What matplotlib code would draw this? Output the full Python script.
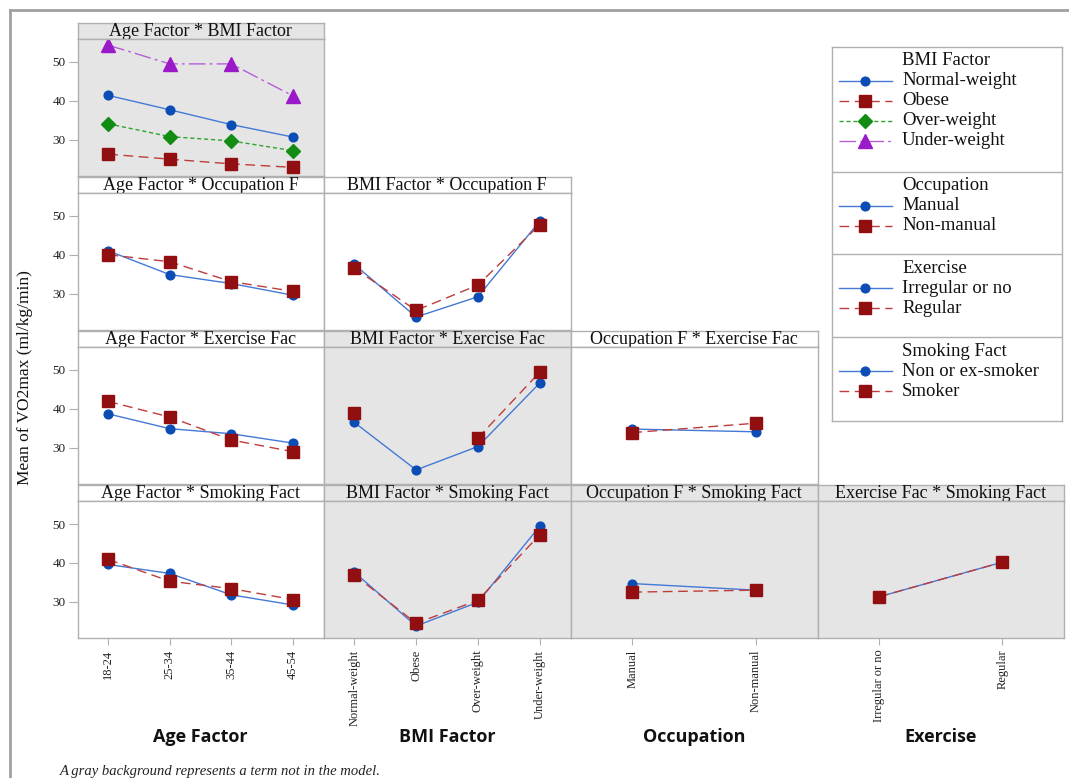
import numpy as np
import matplotlib
matplotlib.use("Agg")
import matplotlib.pyplot as plt
from matplotlib.lines import Line2D

# ---------------- data ----------------
age_levels = ['18-24', '25-34', '35-44', '45-54']
bmi_levels = ['Normal-weight', 'Obese', 'Over-weight', 'Under-weight']
occ_levels = ['Manual', 'Non-manual']
exer_levels = ['Irregular or no', 'Regular']
smoke_levels = ['Non or ex-smoker', 'Smoker']

# Age * BMI
ab_normal = [41.4, 37.7, 33.9, 30.7]
ab_obese = [26.3, 25.0, 23.8, 22.9]
ab_over = [34.1, 30.8, 29.7, 27.2]
ab_under = [54.3, 49.5, 49.5, 41.3]
# Age * Occupation
ao_manual = [41.0, 34.9, 32.6, 29.6]
ao_nonmanual = [40.0, 38.2, 33.1, 30.6]
# BMI * Occupation
bo_manual = [37.5, 24.0, 29.2, 48.6]
bo_nonmanual = [36.5, 25.7, 32.2, 47.7]
# Age * Exercise
ae_irregular = [38.7, 34.9, 33.6, 31.2]
ae_regular = [41.9, 37.9, 32.0, 29.0]
# BMI * Exercise
be_irregular = [36.5, 24.3, 30.3, 46.6]
be_regular = [39.0, np.nan, 32.5, 49.4]
# Occupation * Exercise
oe_irregular = [34.8, 34.1]
oe_regular = [33.9, 36.3]
# Age * Smoking
as_non = [39.6, 37.3, 31.8, 29.2]
as_smoker = [40.9, 35.3, 33.4, 30.6]
# BMI * Smoking
bs_non = [37.6, 23.8, 29.9, 49.4]
bs_smoker = [36.9, 24.5, 30.4, 47.2]
# Occupation * Smoking
os_non = [34.7, 33.0]
os_smoker = [32.5, 33.0]
# Exercise * Smoking
es_non = [31.3, 40.2]
es_smoker = [31.3, 40.2]

y_ticks = [30, 40, 50]
x_axis_names = ['Age Factor', 'BMI Factor', 'Occupation', 'Exercise']
col_levels = [age_levels, bmi_levels, occ_levels, exer_levels]

panel_titles = {
    (0, 0): 'Age Factor * BMI Factor',
    (1, 0): 'Age Factor * Occupation F', (1, 1): 'BMI Factor * Occupation F',
    (2, 0): 'Age Factor * Exercise Fac', (2, 1): 'BMI Factor * Exercise Fac',
    (2, 2): 'Occupation F * Exercise Fac',
    (3, 0): 'Age Factor * Smoking Fact', (3, 1): 'BMI Factor * Smoking Fact',
    (3, 2): 'Occupation F * Smoking Fact', (3, 3): 'Exercise Fac * Smoking Fact',
}
panel_series = {
    (0, 0): [ab_normal, ab_obese, ab_over, ab_under],
    (1, 0): [ao_manual, ao_nonmanual], (1, 1): [bo_manual, bo_nonmanual],
    (2, 0): [ae_irregular, ae_regular], (2, 1): [be_irregular, be_regular],
    (2, 2): [oe_irregular, oe_regular],
    (3, 0): [as_non, as_smoker], (3, 1): [bs_non, bs_smoker],
    (3, 2): [os_non, os_smoker], (3, 3): [es_non, es_smoker],
}
not_in_model = {(0, 0), (2, 1), (3, 1), (3, 2), (3, 3)}

legend_groups = [
    ('BMI Factor', bmi_levels),
    ('Occupation', occ_levels),
    ('Exercise', exer_levels),
    ('Smoking Fact', smoke_levels),
]

# ---------------- styles ----------------
BLUE = dict(color='#4479d6', ls='-', marker='o', mfc='#0b4db5', mec='#0b4db5', ms=6.3, lw=1.0)
RED = dict(color='#bf3c3c', ls=(0, (7, 4)), marker='s', mfc='#910f10', mec='#910f10', ms=8.3, lw=1.0)
GREEN = dict(color='#2ea52e', ls=(0, (3, 2)), marker='D', mfc='#138c13', mec='#138c13', ms=7.5, lw=1.0)
PURPLE = dict(color='#b45ed8', ls=(0, (12, 3, 2, 3)), marker='^', mfc='#9a19c9', mec='#9a19c9', ms=9.5, lw=1.0)
styles_4 = [BLUE, RED, GREEN, PURPLE]
styles_2 = [BLUE, RED]

SERIF = ['Liberation Serif', 'DejaVu Serif']
GRAY_BG = '#e5e5e5'
EDGE = '#b0b0b0'

W, H = 1069, 778
fig = plt.figure(figsize=(W / 100, H / 100), dpi=100)
fig.patch.set_facecolor('white')


def box(x0, y0, x1, y1):
    return [x0 / W, 1 - y1 / H, (x1 - x0) / W, (y1 - y0) / H]


col_edges = [77.5, 323.5, 570.5, 817.5, 1064.0]
row_tops = [22.7, 176.6, 330.7, 484.8]
strip_h = 16.3
plot_h = 137.3
YLIM = (20.6, 55.9)

for (r, c), series in panel_series.items():
    x0, x1 = col_edges[c], col_edges[c + 1]
    top = row_tops[r]
    gray = (r, c) in not_in_model
    bg = GRAY_BG if gray else 'white'
    # strip
    sax = fig.add_axes(box(x0, top, x1, top + strip_h))
    sax.set_facecolor(bg)
    sax.set_xticks([]); sax.set_yticks([])
    for sp in sax.spines.values():
        sp.set_color(EDGE); sp.set_linewidth(1.0)
    sax.text(0.5, 0.45, panel_titles[(r, c)], ha='center', va='center',
             family=SERIF, fontsize=13, color='#111111', transform=sax.transAxes)
    # plot
    ax = fig.add_axes(box(x0, top + strip_h, x1, top + strip_h + plot_h))
    ax.set_facecolor(bg)
    for sp in ax.spines.values():
        sp.set_color(EDGE); sp.set_linewidth(1.0)
    levels = col_levels[c]
    xs = np.arange(len(levels))
    stl = styles_4 if len(series) == 4 else styles_2
    for vals, st in zip(series, stl):
        ax.plot(xs, vals, **st)
    ax.set_xlim(-0.5, len(levels) - 0.5)
    ax.set_ylim(*YLIM)
    if c == 0:
        ax.set_yticks(y_ticks)
        ax.set_yticklabels([str(v) for v in y_ticks], family=SERIF, fontsize=9.5, color='#222222')
        ax.tick_params(axis='y', length=6.5, width=0.8, color=EDGE, pad=2)
    else:
        ax.set_yticks([])
    if r == 3:
        ax.set_xticks(xs)
        ax.set_xticklabels(levels, rotation=90, family=SERIF, fontsize=9, color='#222222')
        ax.tick_params(axis='x', length=5, width=0.8, color=EDGE, pad=3)
        ax.set_xlabel(x_axis_names[c], fontsize=13, fontweight='bold',
                      family=['Open Sans', 'DejaVu Sans'], color='#111111')
    else:
        ax.set_xticks([])

# align x labels at fixed vertical position
for a in fig.axes:
    if a.get_xlabel():
        a.xaxis.set_label_coords(0.5, -(736 - 637.6) / plot_h)
        a.xaxis.label.set_va('center')

# overlay for frame, y label, footnote
ov = fig.add_axes([0, 0, 1, 1], zorder=-1)
ov.set_xlim(0, W); ov.set_ylim(H, 0); ov.axis('off')
ov.plot([9.5, W], [9.5, 9.5], color='#a0a0a0', lw=2)
ov.plot([9.5, 9.5], [9.5, H], color='#a0a0a0', lw=2)

fig.text(25 / W, 1 - 378 / H, 'Mean of VO2max (ml/kg/min)', rotation=90,
         ha='center', va='center', family=SERIF, fontsize=12.5, color='#111111')
fig.text(60 / W, 1 - 771 / H, 'A gray background represents a term not in the model.',
         ha='left', va='center', family=SERIF, style='italic', fontsize=10.5, color='#222222')

# legend panel
lx0, ly0, lx1, ly1 = 832.3, 46.7, 1061.7, 421.0
lax = fig.add_axes(box(lx0, ly0, lx1, ly1))
lax.set_xlim(lx0, lx1); lax.set_ylim(ly1, ly0)
lax.set_xticks([]); lax.set_yticks([])
for sp in lax.spines.values():
    sp.set_color(EDGE); sp.set_linewidth(1.0)
section_tops = [46.7, 171.7, 254.3, 337.3]
for st_y in section_tops[1:]:
    lax.axhline(st_y, color=EDGE, lw=1.0)
text_x = 902
for (title, levels), sy in zip(legend_groups, section_tops):
    lax.text(text_x, sy + 14, title, family=SERIF, fontsize=13.5, va='center', ha='left', color='#111111')
    stl = styles_4 if len(levels) == 4 else styles_2
    for i, (lev, st) in enumerate(zip(levels, stl)):
        yy = sy + 34 + 20 * i
        s = dict(st)
        mk = dict(marker=s.pop('marker'), mfc=s.pop('mfc'), mec=s.pop('mec'), ms=s.pop('ms'))
        lax.add_line(Line2D([839, 892], [yy, yy], **s))
        lax.add_line(Line2D([865], [yy], ls='none', **mk))
        lax.text(text_x, yy, lev, family=SERIF, fontsize=13.5, va='center', ha='left', color='#111111')

fig.savefig('out.png', dpi=100, facecolor='white')
